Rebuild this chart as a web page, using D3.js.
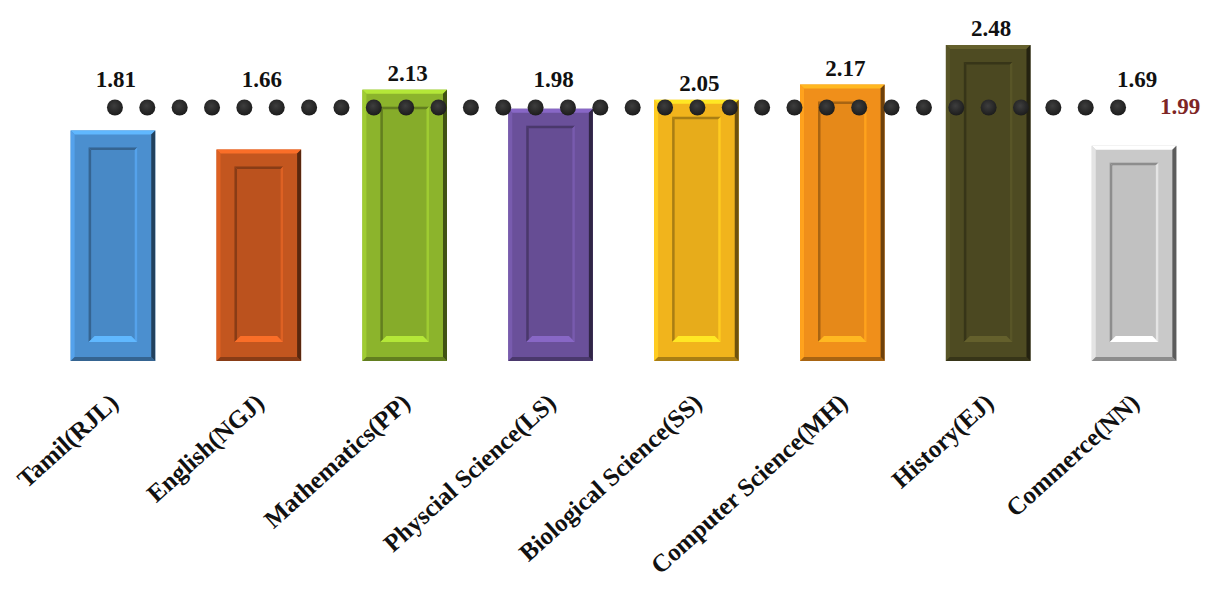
<!DOCTYPE html>
<html>
<head>
<meta charset="utf-8">
<script src="https://cdn.jsdelivr.net/npm/d3@7"></script>
<style>
  html, body { margin: 0; padding: 0; background: #fff; }
  svg { display: block; }
</style>
</head>
<body>
<div id="chart"></div>
<script>
// ---- data ----
const categories = ["Tamil(RJL)", "English(NGJ)", "Mathematics(PP)", "Physcial Science(LS)",
                    "Biological Science(SS)", "Computer Science(MH)", "History(EJ)", "Commerce(NN)"];
const values = [1.81, 1.66, 2.13, 1.98, 2.05, 2.17, 2.48, 1.69];
const valueLabels = ["1.81", "1.66", "2.13", "1.98", "2.05", "2.17", "2.48", "1.69"];
const average = 1.99;
const averageLabel = "1.99";
const colors = ["#4b8fcf", "#c3561f", "#8cb42c", "#6a509a", "#f1b41c", "#f08f1a", "#4e4b22", "#c9c9c9"];

// ---- layout ----
const W = 1216, H = 597;
const FONT = "'Liberation Serif', 'Times New Roman', serif";

const svg = d3.select("#chart").append("svg")
  .attr("width", W).attr("height", H)
  .style("background", "#fff");

const x = d3.scaleBand().domain(categories).range([40, 1207])
  .paddingInner(0.42).paddingOuter(0.21);
const y = d3.scaleLinear().domain([0, 2.5]).range([361, 42.5]);

// ---- bars with bevel ----
const bev = 4;
const bars = svg.append("g").selectAll("g.bar")
  .data(categories.map((c, i) => ({ c, v: values[i], col: colors[i] })))
  .join("g").attr("class", "bar");

bars.each(function (d) {
  const g = d3.select(this);
  const x0 = x(d.c), w = x.bandwidth();
  const y0 = y(d.v), y1 = y(0), h = y1 - y0;
  const base = d3.color(d.col);
  const light = base.brighter(0.7).formatHex();
  const light2 = base.brighter(0.35).formatHex();
  const dark = base.darker(2.2).formatHex();
  const dark2 = base.darker(1.0).formatHex();
  const inner = base.darker(0.12).formatHex();

  g.append("rect").attr("x", x0).attr("y", y0).attr("width", w).attr("height", h).attr("fill", d.col);
  const poly = (pts, fill) => g.append("polygon").attr("points", pts.map(p => p.join(",")).join(" ")).attr("fill", fill);
  // outer bevel
  poly([[x0, y0], [x0 + w, y0], [x0 + w - bev, y0 + bev], [x0 + bev, y0 + bev]], light);
  poly([[x0, y0], [x0 + bev, y0 + bev], [x0 + bev, y1 - bev], [x0, y1]], light2);
  poly([[x0, y1], [x0 + bev, y1 - bev], [x0 + w - bev, y1 - bev], [x0 + w, y1]], dark2);
  poly([[x0 + w, y0], [x0 + w, y1], [x0 + w - bev, y1 - bev], [x0 + w - bev, y0 + bev]], dark);

  // inner recessed panel
  const ix0 = x0 + 18, ix1 = x0 + w - 18, iy0 = y0 + 17, iy1 = y1 - 19;
  if (iy1 > iy0 + 10) {
    g.append("rect").attr("x", ix0).attr("y", iy0).attr("width", ix1 - ix0).attr("height", iy1 - iy0).attr("fill", inner);
    const ib = 2.5;
    poly([[ix0, iy0], [ix1, iy0], [ix1 - ib, iy0 + ib], [ix0 + ib, iy0 + ib]], dark2);
    poly([[ix0, iy0], [ix0 + ib, iy0 + ib], [ix0 + ib, iy1 - ib], [ix0, iy1]], dark2);
    poly([[ix1, iy0], [ix1, iy1], [ix1 - ib, iy1 - ib], [ix1 - ib, iy0 + ib]], light2);
    poly([[ix0, iy1], [ix0 + 6, iy1 - 6], [ix1 - 6, iy1 - 6], [ix1, iy1]], light);
  }
});

// ---- dotted average line ----
const nDots = 32;
const dStart = x(categories[0]) + x.bandwidth() / 2 + 2;
const dEnd = x(categories[categories.length - 1]) + x.bandwidth() / 2 - 16;
const dotX = d3.scaleLinear().domain([0, nDots - 1]).range([dStart, dEnd]);
const defs = svg.append("defs");
const rg = defs.append("radialGradient").attr("id", "dotg").attr("cx", "45%").attr("cy", "40%").attr("r", "60%");
rg.append("stop").attr("offset", "0%").attr("stop-color", "#3e3e3e");
rg.append("stop").attr("offset", "100%").attr("stop-color", "#1c1c1c");
svg.append("g").selectAll("circle")
  .data(d3.range(nDots))
  .join("circle")
  .attr("cx", i => dotX(i))
  .attr("cy", y(average))
  .attr("r", 8)
  .attr("fill", "url(#dotg)");

svg.append("text")
  .attr("x", 1160).attr("y", y(average) + 7)
  .attr("font-family", FONT).attr("font-size", 23).attr("font-weight", "bold")
  .attr("fill", "#7e2525")
  .text(averageLabel);

// ---- value labels ----
svg.append("g").selectAll("text")
  .data(values)
  .join("text")
  .attr("x", (v, i) => x(categories[i]) + x.bandwidth() / 2 + 3)
  .attr("y", v => (v >= average ? y(v) - 9 : y(average) - 20))
  .attr("text-anchor", "middle")
  .attr("font-family", FONT).attr("font-size", 23).attr("font-weight", "bold")
  .attr("fill", "#111")
  .text((v, i) => valueLabels[i]);

// ---- x axis labels ----
const ax = svg.append("g").attr("transform", `translate(0,${y(0)})`)
  .call(d3.axisBottom(x).tickSize(0));
ax.select(".domain").remove();
ax.selectAll("text")
  .attr("x", 0).attr("y", 0).attr("dy", 0)
  .attr("text-anchor", "end")
  .attr("transform", "translate(7,44) rotate(-42)")
  .attr("font-family", FONT).attr("font-size", 25).attr("font-weight", "bold")
  .attr("fill", "#111");
</script>
</body>
</html>
